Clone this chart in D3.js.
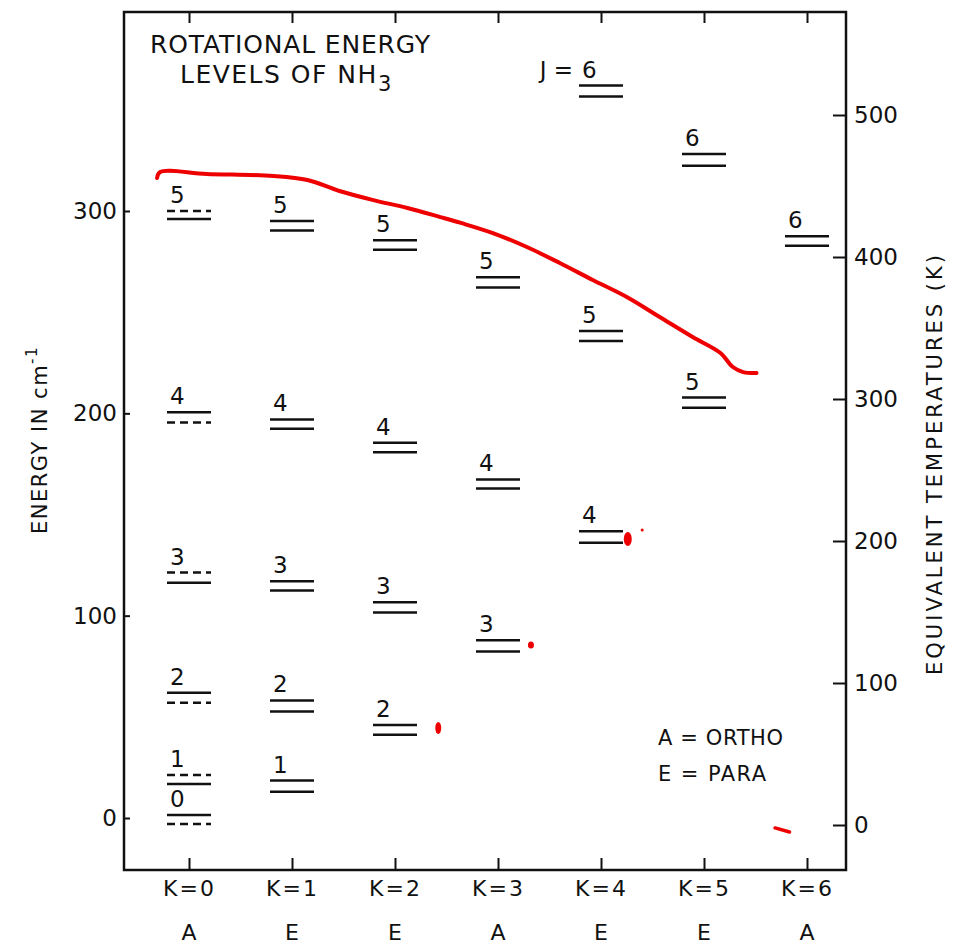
<!DOCTYPE html>
<html>
<head>
<meta charset="utf-8">
<script src="https://cdn.jsdelivr.net/npm/d3@7"></script>
<style>
  body { margin: 0; background: #fff; }
  text { font-family: 'DejaVu Sans', sans-serif; fill: #111; }
</style>
</head>
<body>
<div id="chart"></div>
<script>
var kLabels = ['K=0', 'K=1', 'K=2', 'K=3', 'K=4', 'K=5', 'K=6'];
var symLabels = ['A', 'E', 'E', 'A', 'E', 'E', 'A'];
var energyTicks = [0, 100, 200, 300];
var tempTicks = [0, 100, 200, 300, 400, 500];

// one entry per J level: the two inversion lines (cm-1)
var levelK = [0, 0, 0, 0, 0, 0, 1, 1, 1, 1, 1, 2, 2, 2, 2, 3, 3, 3, 4, 4, 4, 5, 5, 6];
var levelJ = [0, 1, 2, 3, 4, 5, 1, 2, 3, 4, 5, 2, 3, 4, 5, 3, 4, 5, 4, 5, 6, 5, 6, 6];
var upperE = [1.5, 21.3, 61.9, 121.3, 200.5, 300, 18.5, 58.1, 117, 197, 295,
              46.0, 106.6, 185.5, 285.6, 87.8, 167.3, 267.2, 141.7, 240.7, 362,
              207.8, 328.2, 287.5];
var lowerE = [-3.0, 16.8, 56.9, 116.3, 195.5, 296, 13.0, 52.6, 112.4, 192.4, 290.4,
              41.1, 101.6, 180.8, 280.8, 82.3, 162.9, 262.2, 136, 235.8, 356.6,
              202.8, 322.4, 282.8];

// red hand-drawn line: [K position, energy cm-1]
var redCurve = [[-0.31, 316.3], [-0.28, 319.3], [0.17, 318.3], [0.82, 317.3], [1.15, 315.3],
                [1.46, 309.9], [1.79, 305.4], [2.12, 301.5], [2.44, 297.0], [2.64, 294.1],
                [2.95, 289.1], [3.28, 282.2], [3.60, 274.3], [3.92, 265.9], [4.25, 257.5],
                [4.57, 247.6], [4.89, 237.7], [5.16, 229.8], [5.28, 222.9], [5.38, 220.4],
                [5.51, 219.9]];
var redDots = [[2.42, 44.5], [4.26, 137.9], [3.32, 85.5], [4.40, 142.3]];
var redDash = [[5.69, -4.9], [5.83, -6.9]];

var width = 960;
var height = 947;
var frameL = 124, frameR = 846, frameT = 12, frameB = 870;

var svg = d3.select('#chart')
    .append('svg')
    .attr('width', width)
    .attr('height', height);

var x = d3.scalePoint().domain(kLabels).range([189, 807]);
var xPos = d3.scaleLinear().domain([0, kLabels.length - 1]).range([189, 807]);
var y = d3.scaleLinear().domain([0, 300]).range([818, 211]);
var yK = d3.scaleLinear().domain([0, 500]).range([825, 115]);

function styleAxis(g, size) {
    g.select('.domain').remove();
    g.selectAll('line').attr('stroke', '#111').attr('stroke-width', 2);
    g.selectAll('text').attr('font-size', size).attr('font-family', 'DejaVu Sans').attr('fill', '#111');
}

svg.append('g')
    .attr('transform', `translate(0,${frameB})`)
    .call(d3.axisBottom(x).tickSize(-12).tickPadding(10))
    .call(g => styleAxis(g, 22))
    .call(g => g.selectAll('text').attr('letter-spacing', 2));

svg.append('g')
    .attr('transform', `translate(0,${frameT})`)
    .call(d3.axisBottom(x).tickSize(11).tickFormat(''))
    .call(g => styleAxis(g, 20));

svg.append('g')
    .attr('transform', `translate(${frameL},0)`)
    .call(d3.axisLeft(y).tickValues(energyTicks).tickSize(-6).tickPadding(7))
    .call(g => styleAxis(g, 23));

svg.append('g')
    .attr('transform', `translate(${frameR},0)`)
    .call(d3.axisRight(yK).tickValues(tempTicks).tickSize(-13).tickPadding(8))
    .call(g => styleAxis(g, 23));

svg.append('rect')
    .attr('x', frameL).attr('y', frameT)
    .attr('width', frameR - frameL).attr('height', frameB - frameT)
    .attr('fill', 'none').attr('stroke', '#111').attr('stroke-width', 2.5);

svg.append('g')
    .selectAll('text')
    .data(symLabels)
    .join('text')
    .attr('x', (d, i) => x(kLabels[i]))
    .attr('y', 940)
    .attr('text-anchor', 'middle')
    .attr('font-size', 22)
    .text(d => d);

var levels = levelK.map((k, i) => ({ k: k, j: levelJ[i], up: upperE[i], lo: lowerE[i] }));

var lev = svg.append('g').selectAll('g')
    .data(levels)
    .join('g')
    .attr('class', 'level');

lev.append('line')
    .attr('x1', d => x(kLabels[d.k]) - 22)
    .attr('x2', d => x(kLabels[d.k]) + 22)
    .attr('y1', d => y(d.up))
    .attr('y2', d => y(d.up))
    .attr('stroke', '#111')
    .attr('stroke-width', 2.5)
    .attr('stroke-dasharray', d => (d.k === 0 && d.j % 2 === 1) ? '8,5' : null);

lev.append('line')
    .attr('x1', d => x(kLabels[d.k]) - 22)
    .attr('x2', d => x(kLabels[d.k]) + 22)
    .attr('y1', d => y(d.lo))
    .attr('y2', d => y(d.lo))
    .attr('stroke', '#111')
    .attr('stroke-width', 2.5)
    .attr('stroke-dasharray', d => (d.k === 0 && d.j % 2 === 0) ? '8,5' : null);

lev.append('text')
    .attr('x', d => x(kLabels[d.k]) - 19)
    .attr('y', d => y(d.up) - 8)
    .attr('font-size', 23)
    .text(d => d.j);

var top6 = levels.filter(d => d.k === 4 && d.j === 6)[0];
svg.append('text')
    .attr('x', x(kLabels[4]) - 28)
    .attr('y', y(top6.up) - 8)
    .attr('text-anchor', 'end')
    .attr('font-size', 23)
    .text('J =');

var title = svg.append('g');
title.append('text')
    .attr('x', 150).attr('y', 53)
    .attr('font-size', 25)
    .attr('textLength', 280).attr('lengthAdjust', 'spacing')
    .text('ROTATIONAL ENERGY');
var t2 = title.append('text')
    .attr('x', 180).attr('y', 83)
    .attr('font-size', 25)
    .attr('letter-spacing', 1.5);
t2.append('tspan').text('LEVELS OF NH');
t2.append('tspan').attr('font-size', 21).attr('dy', 8).text('3');

svg.append('text')
    .attr('transform', 'translate(47,440) rotate(-90)')
    .attr('text-anchor', 'middle')
    .attr('font-size', 21)
    .attr('letter-spacing', 1.5)
    .call(t => {
        t.append('tspan').text('ENERGY IN cm');
        t.append('tspan').attr('font-size', 15).attr('dy', -10).text('-1');
    });

svg.append('text')
    .attr('transform', 'translate(942,465) rotate(-90)')
    .attr('text-anchor', 'middle')
    .attr('font-size', 21)
    .attr('textLength', 420).attr('lengthAdjust', 'spacing')
    .text('EQUIVALENT TEMPERATURES (K)');

svg.append('text')
    .attr('x', 658).attr('y', 745)
    .attr('font-size', 21)
    .attr('textLength', 125).attr('lengthAdjust', 'spacing')
    .text('A = ORTHO');
svg.append('text')
    .attr('x', 658).attr('y', 781)
    .attr('font-size', 21)
    .attr('textLength', 108).attr('lengthAdjust', 'spacing')
    .text('E = PARA');

var redLine = d3.line()
    .x(d => xPos(d[0]))
    .y(d => y(d[1]))
    .curve(d3.curveCatmullRom);

svg.append('path')
    .attr('d', redLine(redCurve))
    .attr('fill', 'none')
    .attr('stroke', '#ee0000')
    .attr('stroke-width', 4)
    .attr('stroke-linecap', 'round');

svg.append('path')
    .attr('d', redLine(redDash))
    .attr('fill', 'none')
    .attr('stroke', '#ee0000')
    .attr('stroke-width', 3.5)
    .attr('stroke-linecap', 'round');

svg.append('g')
    .selectAll('ellipse')
    .data(redDots)
    .join('ellipse')
    .attr('cx', d => xPos(d[0]))
    .attr('cy', d => y(d[1]))
    .attr('rx', (d, i) => [3, 4, 3, 1.5][i])
    .attr('ry', (d, i) => [6, 7, 3.5, 1.5][i])
    .attr('fill', '#ee0000');
</script>
</body>
</html>
